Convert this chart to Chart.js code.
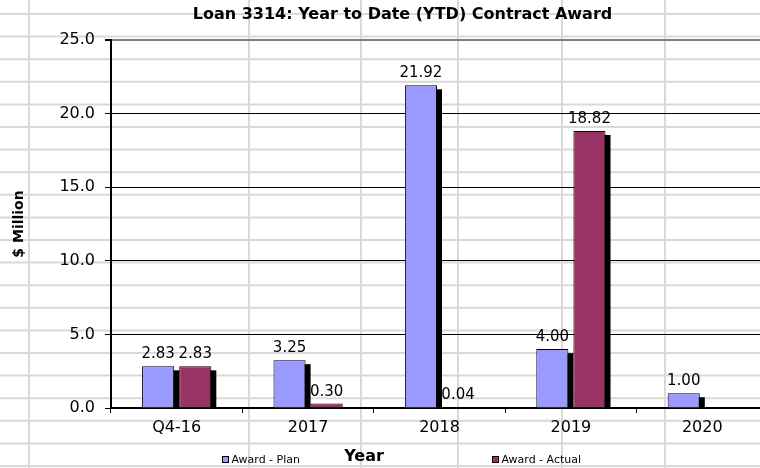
<!DOCTYPE html>
<html>
<head>
<meta charset="utf-8">
<title>Loan 3314: Year to Date (YTD) Contract Award</title>
<script src="https://cdn.jsdelivr.net/npm/chart.js@4.4.1/dist/chart.umd.min.js"></script>
<style>
  html, body { margin: 0; padding: 0; background: #fff; overflow: hidden; }
  #wrap { width: 780px; height: 468px; }
</style>
</head>
<body>
<div id="wrap"><canvas id="chart-award" width="780" height="468"></canvas></div>
<script>
const categories = ['Q4-16', '2017', '2018', '2019', '2020'];
const awardPlan = [2.83, 3.25, 21.92, 4.00, 1.00];
const awardActual = [2.83, 0.30, 0.04, 18.82, null];
const seriesNames = ['Award - Plan', 'Award - Actual'];
const yTicks = [0, 5, 10, 15, 20, 25];
const chartTitle = 'Loan 3314: Year to Date (YTD) Contract Award';
const xTitle = 'Year';
const yTitle = '$ Million';

const FONT = "'DejaVu Sans', sans-serif";
const planColor = '#9999ff';
const actualColor = '#993366';

// worksheet cell lines showing behind the chart
const sheetCols = [29, 249, 361, 458, 562, 665];
const sheetRowTop = 14;
const sheetRowH = 22.6;
const legendX = [222, 492];

const sheetGrid = {
  id: 'sheetGrid',
  beforeDraw(chart) {
    const c = chart.ctx;
    c.save();
    c.strokeStyle = '#d9d9d9';
    c.lineWidth = 2;
    c.beginPath();
    sheetCols.forEach(x => { c.moveTo(x, 0); c.lineTo(x, chart.height); });
    for (let y = sheetRowTop; y < chart.height; y += sheetRowH) {
      c.moveTo(0, y); c.lineTo(chart.width, y);
    }
    c.stroke();
    c.restore();
  }
};

// excel style drop shadow behind each bar
const barShadow = {
  id: 'barShadow',
  beforeDatasetsDraw(chart) {
    const c = chart.ctx, area = chart.chartArea;
    c.save();
    c.beginPath();
    c.rect(area.left, area.top, area.width, area.height);
    c.clip();
    c.fillStyle = '#000';
    chart.data.datasets.forEach((ds, i) => {
      chart.getDatasetMeta(i).data.forEach((bar, j) => {
        if (ds.data[j] == null) return;
        const p = bar.getProps(['x', 'y', 'base', 'width'], true);
        c.fillRect(p.x - p.width / 2 + 5, p.y + 4, p.width, p.base - p.y);
      });
    });
    c.restore();
  }
};

const valueLabels = {
  id: 'valueLabels',
  afterDatasetsDraw(chart) {
    const c = chart.ctx;
    c.save();
    c.font = '15px ' + FONT;
    c.fillStyle = '#000';
    c.textAlign = 'center';
    c.textBaseline = 'alphabetic';
    chart.data.datasets.forEach((ds, i) => {
      chart.getDatasetMeta(i).data.forEach((bar, j) => {
        if (ds.data[j] == null) return;
        c.fillText(ds.data[j].toFixed(2), bar.x, bar.y - 8);
      });
    });
    c.restore();
  }
};

// legend entries sit either side of the axis title, like the sheet
const bottomLegend = {
  id: 'bottomLegend',
  afterDraw(chart) {
    const c = chart.ctx;
    c.save();
    c.fillStyle = '#000';
    c.textAlign = 'center';
    c.textBaseline = 'middle';
    c.font = 'bold 16px ' + FONT;
    c.fillText(xTitle, 364, 457);
    c.font = '11px ' + FONT;
    c.textAlign = 'left';
    chart.data.datasets.forEach((ds, i) => {
      const x = legendX[i];
      c.fillStyle = ds.backgroundColor;
      c.fillRect(x, 456, 7, 7);
      c.strokeStyle = '#000';
      c.lineWidth = 1;
      c.strokeRect(x + 0.5, 456.5, 6, 6);
      c.fillStyle = '#000';
      c.fillText(ds.label, x + 9.5, 460.5);
    });
    c.restore();
  }
};

const ctx_award = document.getElementById('chart-award');

new Chart(ctx_award, {
  type: 'bar',
  data: {
    labels: categories,
    datasets: [
      {
        label: seriesNames[0],
        data: awardPlan,
        backgroundColor: planColor,
        borderColor: '#000',
        borderWidth: 1,
        categoryPercentage: 0.565,
        barPercentage: 0.865
      },
      {
        label: seriesNames[1],
        data: awardActual,
        backgroundColor: actualColor,
        borderColor: '#000',
        borderWidth: 1,
        categoryPercentage: 0.565,
        barPercentage: 0.865
      }
    ]
  },
  options: {
    responsive: false,
    animation: false,
    layout: { padding: { left: 37, right: 12, top: 0, bottom: 0 } },
    plugins: {
      legend: { display: false },
      tooltip: { enabled: false },
      title: {
        display: true,
        text: chartTitle,
        color: '#000',
        font: { family: FONT, size: 16, weight: 'bold' },
        padding: { top: 5, bottom: 15.8 }
      }
    },
    scales: {
      x: {
        grid: { drawOnChartArea: false, tickLength: 5, tickColor: '#000', offset: true },
        border: { color: '#000', width: 2 },
        ticks: { color: '#000', font: { family: FONT, size: 16 }, padding: 5 },
        afterFit(s) { s.height = 60; }
      },
      y: {
        min: 0,
        max: 25,
        afterBuildTicks(s) { s.ticks = yTicks.map(v => ({ value: v })); },
        grid: {
          color: c => (c.tick && c.tick.value === 25) ? '#808080' : '#000',
          lineWidth: c => (c.tick && c.tick.value === 25) ? 2 : 1,
          tickLength: 6,
          tickColor: '#000'
        },
        border: { color: '#000', width: 2 },
        ticks: { color: '#000', font: { family: FONT, size: 16 }, padding: 10, callback: v => v.toFixed(1) },
        title: {
          display: true,
          text: yTitle,
          color: '#000',
          font: { family: FONT, size: 14, weight: 'bold' },
          padding: { top: -26.4, bottom: 0 }
        },
        afterFit(s) { s.width = 74; }
      }
    }
  },
  plugins: [sheetGrid, barShadow, valueLabels, bottomLegend]
});
</script>
</body>
</html>
